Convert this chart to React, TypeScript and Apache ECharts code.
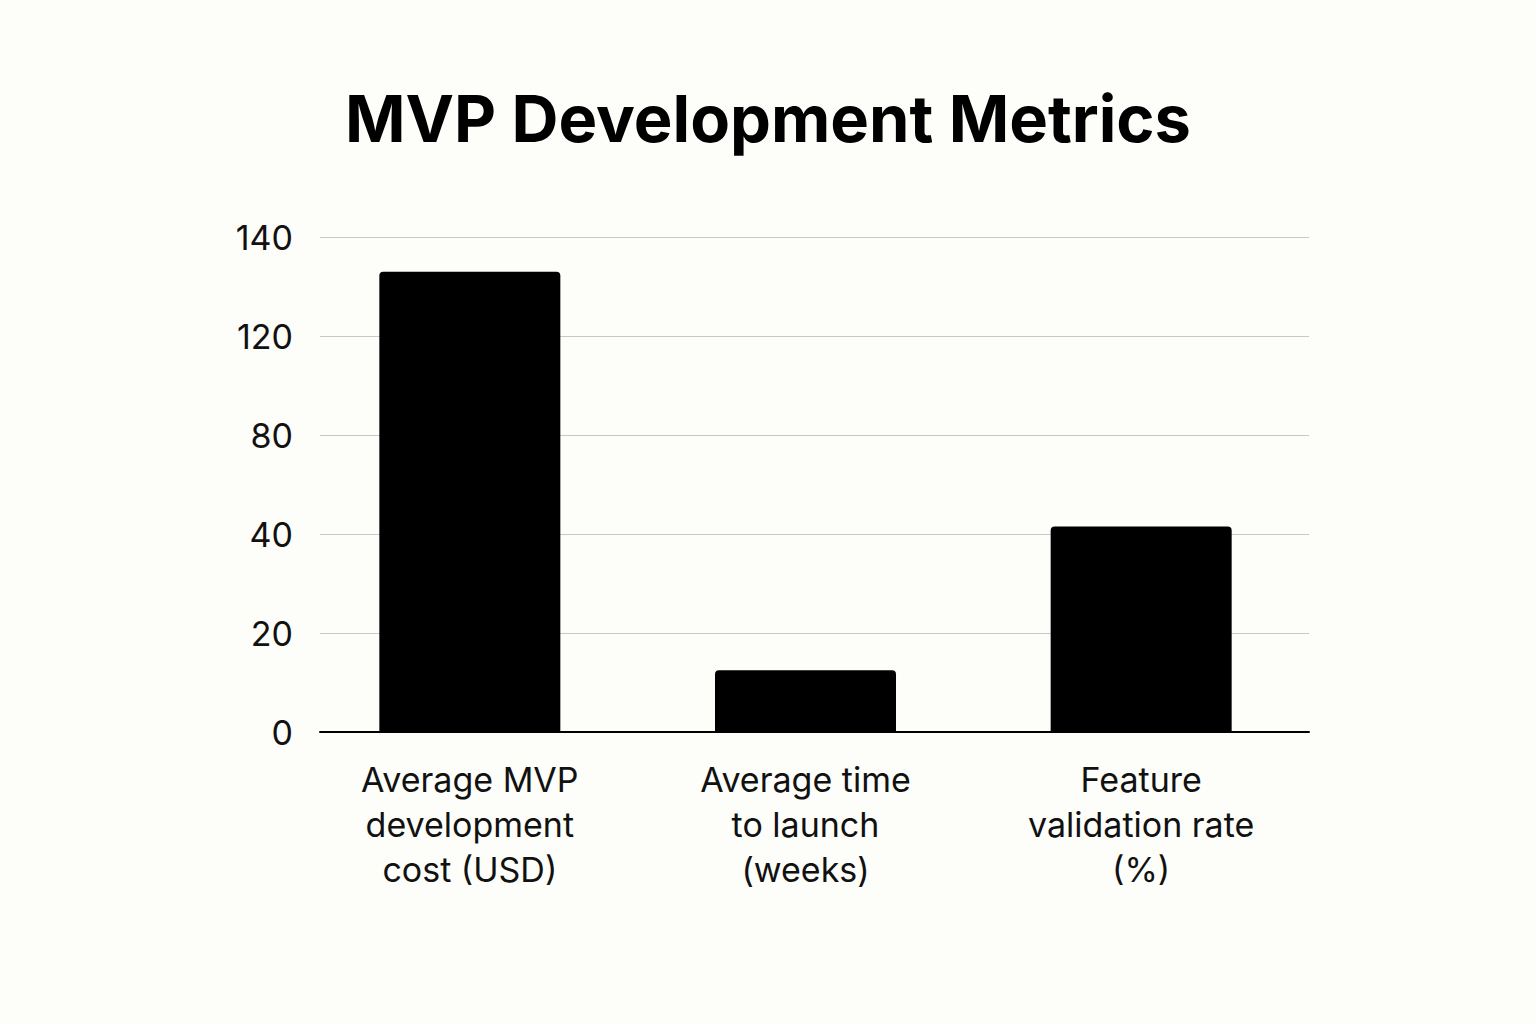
import React, { useEffect, useRef } from 'react';
import * as echarts from 'echarts';

const categories = [
  'Average MVP\ndevelopment\ncost (USD)',
  'Average time\nto launch\n(weeks)',
  'Feature\nvalidation rate\n(%)',
];
const values = [133, 12.5, 43];
// tick labels on the y axis are evenly spaced but not linear
const tickLabels = [0, 20, 40, 80, 120, 140];

// piecewise-linear position of a value between the uneven ticks
const toAxis = (v: number) => {
  for (let i = 1; i < tickLabels.length; i++) {
    const lo = tickLabels[i - 1];
    const hi = tickLabels[i];
    if (v <= hi) return i - 1 + (v - lo) / (hi - lo);
  }
  return tickLabels.length - 1;
};

const FONT = 'Inter, "Noto Sans", sans-serif';
const TOP = 237;
const BOTTOM = 292;

const App: React.FC = () => {
  const chartRef = useRef<HTMLDivElement>(null);

  useEffect(() => {
    document.body.style.margin = '0';
    const chart = echarts.init(chartRef.current!, undefined, { renderer: 'svg' });

    const yBase = {
      type: 'value',
      min: 0,
      max: tickLabels.length - 1,
      interval: 1,
      axisLine: { show: false },
      axisTick: { show: false },
    };

    chart.setOption({
      animation: false,
      backgroundColor: '#fdfdf9',
      title: {
        text: 'MVP Development Metrics',
        left: 'center',
        top: 81,
        textStyle: { fontFamily: FONT, fontSize: 65, fontWeight: 'bold', color: '#000' },
      },
      // grid 0 carries the bars, grid 1 the gridlines, y labels and baseline
      grid: [
        { left: 302, right: 227, top: TOP, bottom: BOTTOM },
        { left: 320, right: 227, top: TOP, bottom: BOTTOM },
      ],
      xAxis: [
        {
          type: 'category',
          gridIndex: 0,
          data: categories,
          axisLine: { show: false },
          axisTick: { show: false },
          axisLabel: {
            interval: 0,
            margin: 25,
            fontFamily: FONT,
            fontSize: 34,
            lineHeight: 45,
            color: '#111',
          },
        },
        {
          type: 'value',
          gridIndex: 1,
          axisLine: { lineStyle: { color: '#000', width: 2 } },
          axisTick: { show: false },
          axisLabel: { show: false },
          splitLine: { show: false },
          z: 5,
        },
      ],
      yAxis: [
        { ...yBase, gridIndex: 0, axisLabel: { show: false }, splitLine: { show: false } },
        {
          ...yBase,
          gridIndex: 1,
          splitLine: { lineStyle: { color: '#c8c8c8', width: 1 } },
          axisLabel: {
            margin: 27,
            fontFamily: FONT,
            fontSize: 34,
            color: '#111',
            formatter: (v: number) => String(tickLabels[Math.round(v)]),
          },
        },
      ],
      series: [
        {
          type: 'bar',
          xAxisIndex: 0,
          yAxisIndex: 0,
          data: values.map(toAxis),
          barWidth: 181,
          z: 3,
          itemStyle: { color: '#000', borderRadius: [4, 4, 0, 0] },
        },
      ],
    });

    return () => {
      chart.dispose();
    };
  }, []);

  return <div ref={chartRef} style={{ width: '1536px', height: '1024px' }} />;
};

export default App;
